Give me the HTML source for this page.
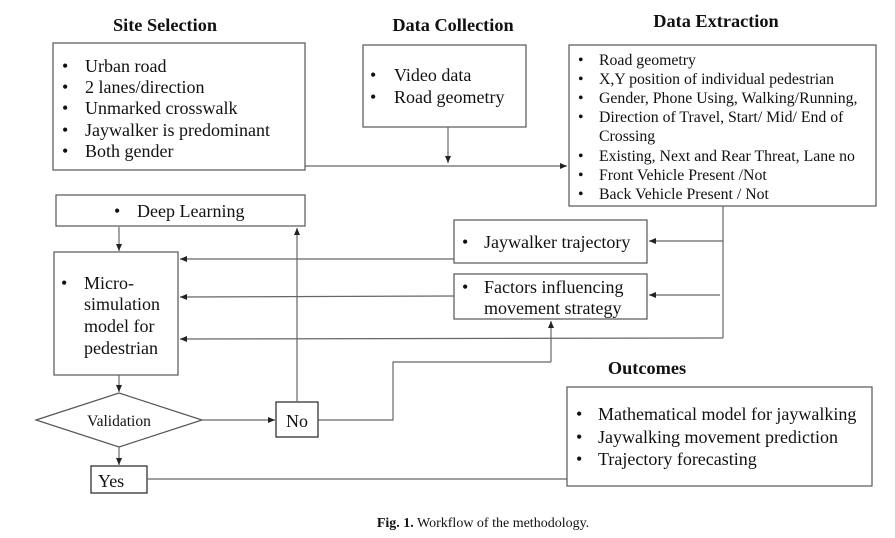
<!DOCTYPE html>
<html><head><meta charset="utf-8"><style>
body{margin:0;background:#fff}
svg{display:block}
text{font-family:"Liberation Serif",serif;fill:#111}
.h{font-weight:bold;font-size:18.3px}
.t{font-size:18px}
.s{font-size:15.8px}
rect,polygon{fill:#fff;stroke:#555;stroke-width:1.2}
line,polyline{stroke:#666;stroke-width:1.2;fill:none}
</style></head><body>
<svg width="895" height="538" viewBox="0 0 895 538">
<defs><marker id="a" markerWidth="8" markerHeight="8" refX="7" refY="4" orient="auto" markerUnits="userSpaceOnUse"><path d="M0,1 L7,4 L0,7z" fill="#222"/></marker></defs>
<text class="h" x="165" y="31" text-anchor="middle">Site Selection</text>
<text class="h" x="453" y="31" text-anchor="middle">Data Collection</text>
<text class="h" x="716" y="27" text-anchor="middle">Data Extraction</text>
<text class="h" x="647" y="374" text-anchor="middle">Outcomes</text>

<rect x="53" y="43" width="252" height="127"/>
<g class="t"><text x="62" y="72">•</text><text x="85" y="72">Urban road</text>
<text x="62" y="93">•</text><text x="85" y="93">2 lanes/direction</text>
<text x="62" y="114">•</text><text x="85" y="114">Unmarked crosswalk</text>
<text x="62" y="136">•</text><text x="85" y="136">Jaywalker is predominant</text>
<text x="62" y="157">•</text><text x="85" y="157">Both gender</text></g>

<rect x="363" y="45" width="163" height="82"/>
<g class="t"><text x="370" y="81">•</text><text x="394" y="81">Video data</text>
<text x="370" y="103">•</text><text x="394" y="103">Road geometry</text></g>

<rect x="569" y="45" width="307" height="161"/>
<g class="s"><text x="578" y="65">•</text><text x="599" y="65">Road geometry</text>
<text x="578" y="84">•</text><text x="599" y="84">X,Y position of individual pedestrian</text>
<text x="578" y="103">•</text><text x="599" y="103">Gender, Phone Using, Walking/Running,</text>
<text x="578" y="122">•</text><text x="599" y="122">Direction of Travel, Start/ Mid/ End of</text>
<text x="599" y="141">Crossing</text>
<text x="578" y="161">•</text><text x="599" y="161">Existing, Next and Rear Threat, Lane no</text>
<text x="578" y="180">•</text><text x="599" y="180">Front Vehicle Present /Not</text>
<text x="578" y="199">•</text><text x="599" y="199">Back Vehicle Present / Not</text></g>

<line x1="305" y1="166" x2="567" y2="166" marker-end="url(#a)"/>
<line x1="448" y1="127" x2="448" y2="163" marker-end="url(#a)"/>

<rect x="56" y="195" width="249" height="31"/>
<text class="t" x="114" y="217">•</text><text class="t" x="137" y="217">Deep Learning</text>
<line x1="119" y1="227" x2="119" y2="251" marker-end="url(#a)"/>

<rect x="54" y="252" width="124" height="123"/>
<g class="t"><text x="61" y="289">•</text><text x="84" y="289">Micro-</text>
<text x="84" y="310">simulation</text><text x="84" y="332">model for</text><text x="84" y="354">pedestrian</text></g>

<rect x="454" y="220" width="193" height="43"/>
<text class="t" x="462" y="248">•</text><text class="t" x="484" y="248">Jaywalker trajectory</text>
<rect x="454" y="274" width="193" height="45"/>
<g class="t"><text x="462" y="293">•</text><text x="484" y="293">Factors influencing</text><text x="484" y="314">movement strategy</text></g>

<line x1="723" y1="206" x2="723" y2="338"/>
<line x1="723" y1="241" x2="649" y2="241" marker-end="url(#a)"/>
<line x1="720" y1="295" x2="649" y2="295" marker-end="url(#a)"/>
<line x1="723" y1="338" x2="180" y2="339" marker-end="url(#a)"/>
<line x1="454" y1="259" x2="180" y2="259" marker-end="url(#a)"/>
<line x1="454" y1="296" x2="180" y2="297" marker-end="url(#a)"/>

<polyline points="318,420 393,420 393,362 551,362"/>
<line x1="551" y1="362" x2="551" y2="321" marker-end="url(#a)"/>

<line x1="119" y1="375" x2="119" y2="392" marker-end="url(#a)"/>
<polygon points="36,420 119,393 202,420 119,447"/>
<text x="119" y="426" text-anchor="middle" font-size="15.5">Validation</text>
<line x1="202" y1="420" x2="275" y2="420" marker-end="url(#a)"/>
<rect x="276" y="402" width="42" height="35" style="stroke:#222"/>
<text class="t" x="297" y="427" text-anchor="middle">No</text>
<line x1="297" y1="402" x2="297" y2="228" marker-end="url(#a)"/>

<line x1="119" y1="447" x2="119" y2="465" marker-end="url(#a)"/>
<rect x="91" y="466" width="56" height="27" style="stroke:#222"/>
<text class="t" x="98" y="487">Yes</text>
<line x1="147" y1="479" x2="567" y2="479"/>

<rect x="567" y="387" width="305" height="99"/>
<g class="t"><text x="576" y="420">•</text><text x="598" y="420">Mathematical model for jaywalking</text>
<text x="576" y="443">•</text><text x="598" y="443">Jaywalking movement prediction</text>
<text x="576" y="465">•</text><text x="598" y="465">Trajectory forecasting</text></g>

<text x="483" y="527" text-anchor="middle" font-size="14"><tspan font-weight="bold">Fig. 1.</tspan>  Workflow of the methodology.</text>
</svg>
</body></html>
